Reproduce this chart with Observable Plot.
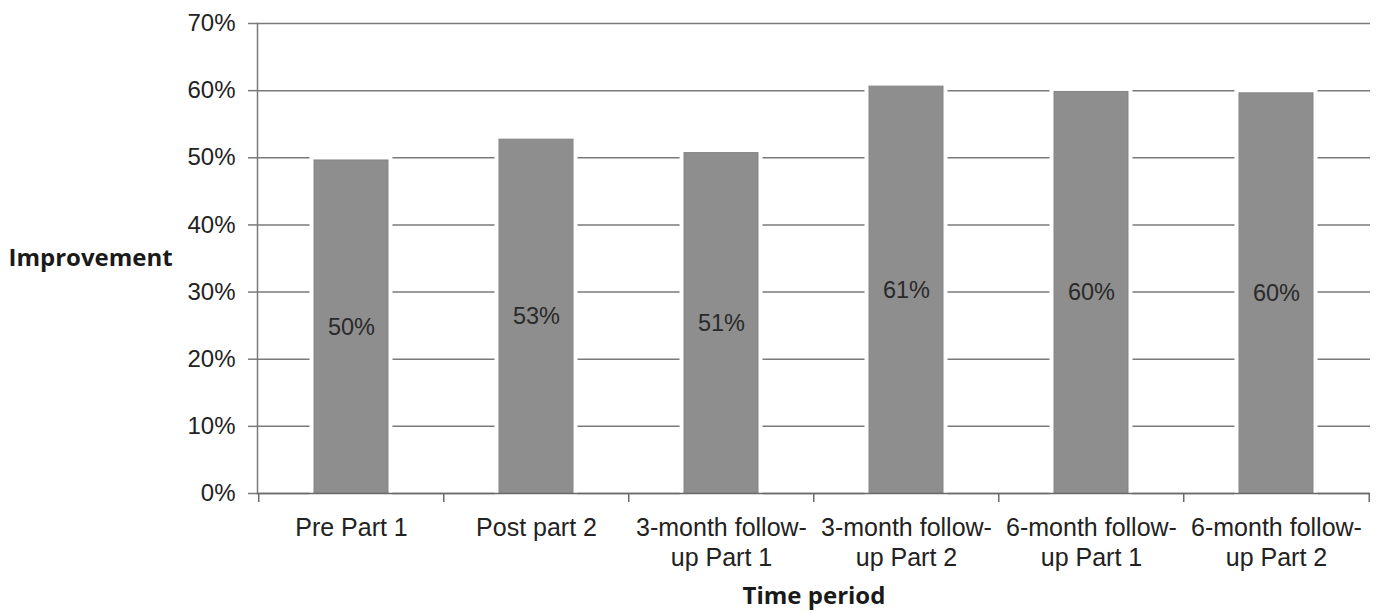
<!DOCTYPE html>
<html>
<head>
<meta charset="utf-8">
<script src="https://cdn.jsdelivr.net/npm/d3@7"></script>
<script src="https://cdn.jsdelivr.net/npm/@observablehq/plot@0.6"></script>
<style>
  html, body { margin: 0; padding: 0; background: #fff; }
  #chart svg { display: block; }
</style>
</head>
<body>
<div id="chart"></div>
<script>
const categories = [
  "Pre Part 1",
  "Post part 2",
  "3-month follow-\nup Part 1",
  "3-month follow-\nup Part 2",
  "6-month follow-\nup Part 1",
  "6-month follow-\nup Part 2"
];
const values = [0.496, 0.527, 0.507, 0.606, 0.598, 0.596];
const valueLabels = ["50%", "53%", "51%", "61%", "60%", "60%"];
const yTicks = [0, 0.1, 0.2, 0.3, 0.4, 0.5, 0.6, 0.7];
const yTitle = "Improvement";
const xTitle = "Time period";

const data = categories.map((c, i) => ({category: c, value: values[i], label: valueLabels[i]}));

const W = 1383, H = 613, mL = 257, mR = 13, mT = 23, mB = 120;
const step = (W - mL - mR) / categories.length;

const chart = Plot.plot({
  width: W,
  height: H,
  marginLeft: mL,
  marginRight: mR,
  marginTop: mT,
  marginBottom: mB,
  style: {fontFamily: "'Liberation Sans', Arial, sans-serif", background: "#fff", color: "#222"},
  x: {domain: categories, paddingInner: 0.6, paddingOuter: 0.3, axis: null},
  y: {domain: [0, 0.7], axis: null},
  marks: [
    Plot.gridY(yTicks, {stroke: "#7a7a7a", strokeOpacity: 1, strokeWidth: 1.5}),
    Plot.barY(data, {x: "category", y: "value", fill: "#fff", stroke: "#fff", strokeWidth: 9}),
    Plot.barY(data, {x: "category", y: "value", fill: "#8e8e8e", stroke: "#858585", strokeWidth: 1}),
    Plot.text(data, {x: "category", y: d => d.value / 2, text: "label", fontSize: 23.5, fill: "#2a2a2a"}),
    Plot.frame({anchor: "left", stroke: "#7a7a7a", strokeWidth: 1.5}),
    Plot.ruleY([0], {stroke: "#6a6a6a", strokeWidth: 1.5}),
    Plot.axisY({ticks: yTicks, tickFormat: d3.format(".0%"), tickSize: 9, tickPadding: 13, fontSize: 24, stroke: "#7a7a7a", strokeWidth: 1.5, fill: "#222", label: null}),
    Plot.axisX({tickSize: 0, tickPadding: 21, fontSize: 25, lineHeight: 1.2, fill: "#222", label: null}),
    Plot.axisX({tickSize: 9, tickFormat: () => "", dx: -step / 2, stroke: "#6a6a6a", strokeWidth: 1.5, label: null}),
    Plot.axisX([categories[categories.length - 1]], {tickSize: 9, tickFormat: () => "", dx: step / 2, stroke: "#6a6a6a", strokeWidth: 1.5, label: null}),
    Plot.text([yTitle], {frameAnchor: "left", dx: -249, textAnchor: "start", fontSize: 24, fontWeight: 700, fontFamily: "'Open Sans', sans-serif", fill: "#1a1a1a"}),
    Plot.text([xTitle], {frameAnchor: "bottom", dy: 110, fontSize: 24, fontWeight: 700, fontFamily: "'Open Sans', sans-serif", fill: "#1a1a1a"})
  ]
});
document.getElementById("chart").appendChild(chart);
</script>
</body>
</html>
